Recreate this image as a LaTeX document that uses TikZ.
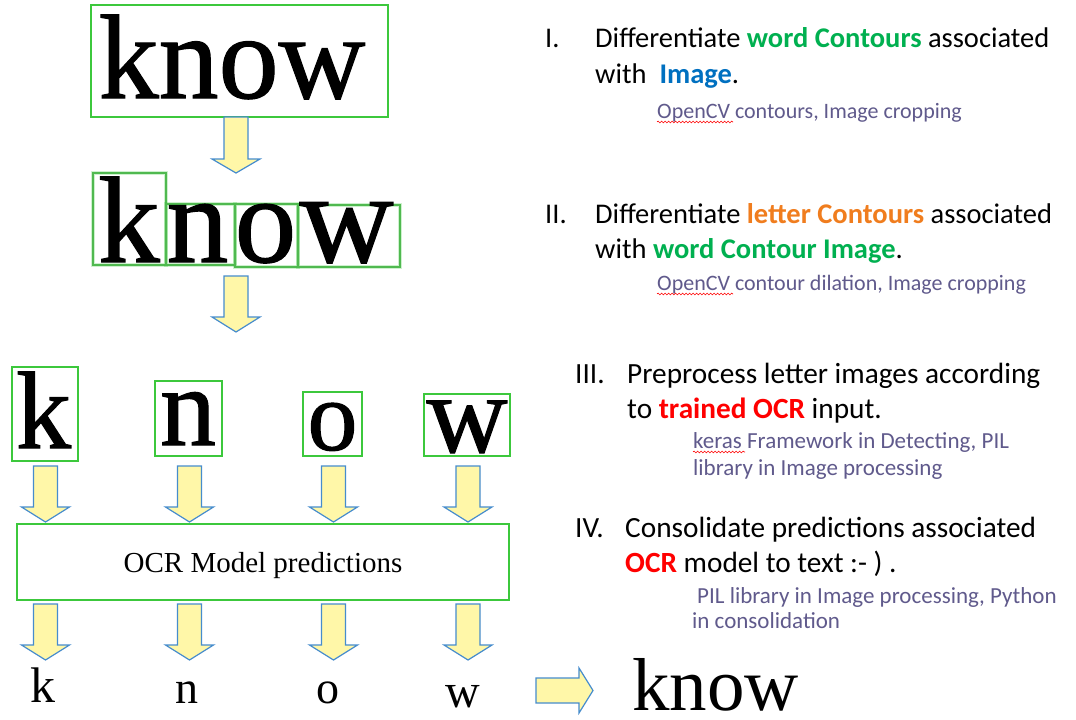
\documentclass[tikz,border=0pt]{standalone}
\usepackage{fontspec}
\setmainfont{Liberation Serif}
\newfontfamily\heavyserif[FakeBold=1.0]{Liberation Serif}
\newfontfamily\calfont{Carlito}
\usetikzlibrary{decorations.pathmorphing}
\definecolor{boxgreen}{RGB}{60,200,60}
\definecolor{thingreen}{RGB}{80,185,80}
\definecolor{arrfill}{RGB}{255,247,168}
\definecolor{arrline}{RGB}{70,140,205}
\definecolor{wgreen}{RGB}{0,176,80}
\definecolor{iblue}{RGB}{0,112,192}
\definecolor{lorange}{RGB}{240,125,30}
\definecolor{ocrred}{RGB}{255,0,0}
\definecolor{notecol}{RGB}{96,90,140}
\newcommand\dnarrow[4]{%
  \draw[blockarrow] (#1-12,#2) -- (#1+12,#2) -- (#1+12,#3) -- (#1+24,#3) -- (#1,#4) -- (#1-24,#3) -- (#1-12,#3) -- cycle;}
\newcommand\fs[1]{\fontsize{#1}{#1}\selectfont}
\tikzset{
  blockarrow/.style={fill=arrfill, draw=arrline, line width=1.2pt, line join=miter},
  bigbox/.style={draw=boxgreen, line width=2.6pt},
  smallbox/.style={draw=thingreen, line width=1.2pt},
  glow/.style={draw=boxgreen, opacity=0.25, line width=4pt},
  ser/.style={anchor=base, inner sep=0pt, text=black},
  txt/.style={anchor=base west, inner sep=0pt, text=black},
  note/.style={anchor=base west, inner sep=0pt, text=notecol},
  wavy/.style={draw=red, line width=0.6pt, decorate, decoration={snake, amplitude=0.9pt, segment length=3.5pt}}
}
\begin{document}
\begin{tikzpicture}[x=1pt,y=-1pt]
\useasboundingbox (0,0) rectangle (1076,720);
\fill[white] (0,0) rectangle (1076,720);

% ---- top word
\draw[bigbox] (91,5) rectangle (388,117);
\node[ser, font=\heavyserif\fs{120}] (w1) at (232,98) {know};
\dnarrow{236}{117}{159}{173}

% ---- word with letter contours
\foreach \a/\b/\c/\d in {93/173/166/265, 166/204/235/265, 235/204/298/267, 298/205/400/267}{
  \draw[glow] (\a,\b) rectangle (\c,\d);
  \draw[smallbox] (\a,\b) rectangle (\c,\d);
}
\node[ser, font=\heavyserif\fs{123}] (k2) at (129,262) {k};
\node[ser, font=\heavyserif\fs{123}] (n2) at (197.5,262) {n};
\node[ser, font=\heavyserif\fs{123}] (o2) at (265.5,262) {o};
\node[ser, font=\heavyserif\fs{130}] (w2) at (346.5,262) {w};
\dnarrow{236}{276}{317}{332}

% ---- separated letters
\draw[bigbox] (12,367) rectangle (78,461);
\draw[bigbox] (155,381) rectangle (222,456);
\draw[bigbox] (303,392) rectangle (362,456);
\draw[bigbox] (424,394) rectangle (510,456);
\node[ser, font=\heavyserif\fs{110}] (k3) at (43.5,448) {k};
\node[ser, font=\heavyserif\fs{112}] (n3) at (188,445) {n};
\node[ser, font=\heavyserif\fs{100}] (o3) at (332.5,450) {o};
\node[ser, font=\heavyserif\fs{112}] (w3) at (467,452) {w};

\foreach \x in {45.5,189.5,333.5,468}{\dnarrow{\x}{466}{507}{522}}
\draw[bigbox] (17,524) rectangle (509,600);
\node[ser, font=\fs{29}] (ocr) at (263,572) {OCR Model predictions};
\foreach \x in {45.5,189.5,333.5,468}{\dnarrow{\x}{604}{645}{660}}

% ---- predicted letters
\node[ser, font=\fs{50}] (k4) at (43,702) {k};
\node[ser, font=\fs{46}] (n4) at (187,703) {n};
\node[ser, font=\fs{46}] (o4) at (328,703) {o};
\node[ser, font=\fs{48}] (w4) at (463,707) {w};

\draw[blockarrow] (536,678) -- (579,678) -- (579,668) -- (593,690.5) -- (579,713) -- (579,703) -- (536,703) -- cycle;
\node[anchor=base west, inner sep=0pt, font=\fs{75}] (final) at (632,710) {know};

% ---- right text
\node[txt, font=\calfont\fs{28.5}] (i1) at (545,47) {I.};
\node[txt, font=\calfont\fs{28.5}] (t1a) at (595,47) {Differentiate {\bfseries\color{wgreen}word Contours} associated};
\node[txt, font=\calfont\fs{28.5}] (t1b) at (595,83) {with\ \ {\bfseries\color{iblue}Image}.};
\node[note, font=\calfont\fs{22}] (n1) at (657,118) {OpenCV contours, Image cropping};
\draw[wavy] (657,122) -- (733,122);

\node[txt, font=\calfont\fs{28.5}] (i2) at (545,223) {II.};
\node[txt, font=\calfont\fs{28.5}] (t2a) at (595,223) {Differentiate {\bfseries\color{lorange}letter Contours} associated};
\node[txt, font=\calfont\fs{28.5}] (t2b) at (595,258) {with {\bfseries\color{wgreen}word Contour Image}.};
\node[note, font=\calfont\fs{22}] (n2) at (657,290) {OpenCV contour dilation, Image cropping};
\draw[wavy] (657,294) -- (733,294);

\node[txt, font=\calfont\fs{29.3}] (i3) at (575,383) {III.};
\node[txt, font=\calfont\fs{29.3}] (t3a) at (627,383) {Preprocess letter images according};
\node[txt, font=\calfont\fs{29.3}] (t3b) at (627,418) {to {\bfseries\color{ocrred}trained OCR} input.};
\node[note, font=\calfont\fs{23}] (n3a) at (693,448) {keras Framework in Detecting, PIL};
\node[note, font=\calfont\fs{23}] (n3b) at (693,475) {library in Image processing};
\draw[wavy] (693,452) -- (745,452);

\node[txt, font=\calfont\fs{29.3}] (i4) at (575,537) {IV.};
\node[txt, font=\calfont\fs{29.3}] (t4a) at (625,537) {Consolidate predictions associated};
\node[txt, font=\calfont\fs{29.3}] (t4b) at (625,572) {{\bfseries\color{ocrred}OCR} model to text :- ) .};
\node[note, font=\calfont\fs{23}] (n4a) at (697,603) {PIL library in Image processing, Python};
\node[note, font=\calfont\fs{23}] (n4b) at (692,628) {in consolidation};
\end{tikzpicture}
\end{document}
